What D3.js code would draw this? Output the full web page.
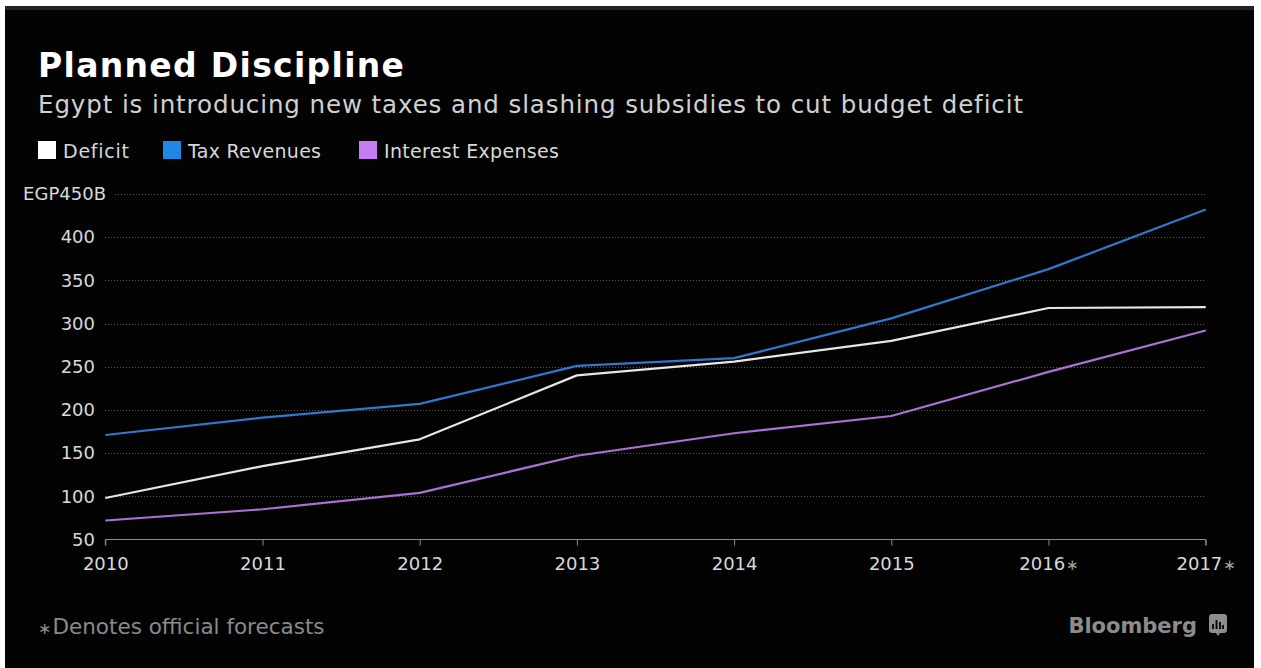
<!DOCTYPE html>
<html>
<head>
<meta charset="utf-8">
<script src="https://cdn.jsdelivr.net/npm/d3@7"></script>
<style>
  html, body { margin: 0; padding: 0; background: #ffffff; }
  svg { display: block; }
  text { font-family: "DejaVu Sans", Verdana, sans-serif; }
</style>
</head>
<body>
<svg id="chart" width="1261" height="668"></svg>
<script>
// ---- data ----
const years = ["2010", "2011", "2012", "2013", "2014", "2015", "2016*", "2017*"];
const deficit = [98, 135, 166, 240, 256, 280, 318, 319];
const taxRevenues = [171, 191, 207, 251, 260, 306, 363, 432];
const interestExpenses = [72, 85, 104, 147, 173, 193, 244, 292];
const yTicks = [50, 100, 150, 200, 250, 300, 350, 400, 450];
const seriesNames = ["Deficit", "Tax Revenues", "Interest Expenses"];

const title = "Planned Discipline";
const subtitle = "Egypt is introducing new taxes and slashing subsidies to cut budget deficit";
const footnote = "Denotes official forecasts";

// ---- styles ----
const lineColors = ["#e6e6e6", "#2f78cf", "#b06fd6"];
const legendColors = ["#ffffff", "#1e88e5", "#c57cf5"];

const svg = d3.select("#chart");
const W = 1261, H = 668;

// fit a text element to a target width using letter-spacing
function fitWidth(sel, target) {
  const node = sel.node();
  const n = sel.text().length;
  const w = node.getComputedTextLength();
  if (n > 1) sel.attr("letter-spacing", ((target - w) / (n - 1)).toFixed(3));
}

// frame / background
svg.append("rect").attr("x", 0).attr("y", 0).attr("width", W).attr("height", H).attr("fill", "#ffffff");
svg.append("rect").attr("x", 5).attr("y", 6).attr("width", 1249).attr("height", H - 6).attr("fill", "#030303");
svg.append("rect").attr("x", 5).attr("y", 6).attr("width", 1249).attr("height", 4).attr("fill", "#222222");

// scales
const x = d3.scalePoint().domain(years).range([105.3, 1205.7]);
const y = d3.scaleLinear().domain([50, 450]).range([539.5, 194]);

// title & subtitle
const tt = svg.append("text").attr("x", 38).attr("y", 77).text(title)
  .attr("fill", "#ffffff").attr("font-weight", "bold").attr("font-size", 33);
fitWidth(tt, 366);
const st = svg.append("text").attr("x", 38).attr("y", 113).text(subtitle)
  .attr("fill", "#d0d0d0").attr("font-size", 24.5);
fitWidth(st, 985);

// legend
const legendX = [38, 163, 359];
const legendW = [66, 133, 175];
seriesNames.forEach((name, i) => {
  const g = svg.append("g").attr("transform", `translate(${legendX[i]},0)`);
  g.append("rect").attr("x", 0).attr("y", 141).attr("width", 18).attr("height", 18).attr("fill", legendColors[i]);
  const lt = g.append("text").attr("x", 25).attr("y", 158).text(name)
    .attr("fill", "#d8d8d8").attr("font-size", 19);
  fitWidth(lt, legendW[i]);
});

// gridlines (dotted)
const gridG = svg.append("g");
yTicks.filter(v => v > 50).forEach(v => {
  gridG.append("line")
    .attr("x1", v === 450 ? 115 : 105).attr("x2", 1206)
    .attr("y1", Math.round(y(v)) + 0.5).attr("y2", Math.round(y(v)) + 0.5)
    .attr("stroke", "#5a5a5a").attr("stroke-width", 1)
    .attr("stroke-dasharray", "1,2");
});

// y axis labels
const yAxis = d3.axisLeft(y).tickValues(yTicks)
  .tickFormat(v => v === 450 ? "EGP450B" : String(v)).tickSize(0).tickPadding(0);
const yG = svg.append("g").attr("transform", "translate(95,0)").call(yAxis);
yG.select(".domain").remove();
yG.selectAll("text").attr("fill", "#d8d8d8").attr("font-size", 18)
  .attr("font-family", "DejaVu Sans, sans-serif");
yG.selectAll(".tick").filter(d => d === 450).select("text").attr("x", 11);

// x axis
const xAxis = d3.axisBottom(x).tickSize(6).tickPadding(12);
const xG = svg.append("g").attr("transform", "translate(0,539.5)").call(xAxis);
xG.select(".domain").attr("stroke", "#8a8a8a").attr("d", `M${x(years[0])},6V0H${x(years[years.length-1])}V6`);
xG.selectAll(".tick line").attr("stroke", "#8a8a8a");
xG.selectAll(".tick text").attr("fill", "#d8d8d8").attr("font-size", 18)
  .attr("font-family", "DejaVu Sans, sans-serif")
  .each(function(d) {
    const t = d3.select(this);
    if (d.endsWith("*")) {
      t.text(null);
      t.append("tspan").text(d.slice(0, -1));
      t.append("tspan").text("∗").attr("fill", "#a0a0a0").attr("font-size", 15).attr("dx", 1);
    }
  });

// lines
const lineGen = d3.line().x((d, i) => x(years[i])).y(d => y(d));
[deficit, taxRevenues, interestExpenses].forEach((vals, i) => {
  svg.append("path").datum(vals).attr("d", lineGen)
    .attr("fill", "none").attr("stroke", lineColors[i]).attr("stroke-width", 2.2)
    .attr("stroke-linejoin", "round");
});

// footnote
const ft = svg.append("text").attr("x", 38).attr("y", 634).attr("fill", "#8a8a8a").attr("font-size", 21.5);
ft.append("tspan").text("∗").attr("font-size", 16);
ft.append("tspan").text(footnote).attr("dx", 1);

// Bloomberg logo
svg.append("text").attr("x", 1197).attr("y", 633).attr("text-anchor", "end")
  .text("Bloomberg").attr("fill", "#8c8c8c").attr("font-size", 21).attr("font-weight", "bold")
  .attr("font-family", "Lato, 'DejaVu Sans', sans-serif");
const logo = svg.append("g").attr("transform", "translate(1209,614)");
logo.append("path")
  .attr("d", "M3,0H15Q18,0 18,3V16Q18,19 15,19H11L9,22L7,19H3Q0,19 0,16V3Q0,0 3,0Z")
  .attr("fill", "#8c8c8c");
[[4, 10], [7.5, 6], [11, 8], [14, 11]].forEach(([bx, by]) => {
  logo.append("rect").attr("x", bx - 0.9).attr("y", by).attr("width", 1.8).attr("height", 15 - by).attr("fill", "#030303");
});
</script>
</body>
</html>
